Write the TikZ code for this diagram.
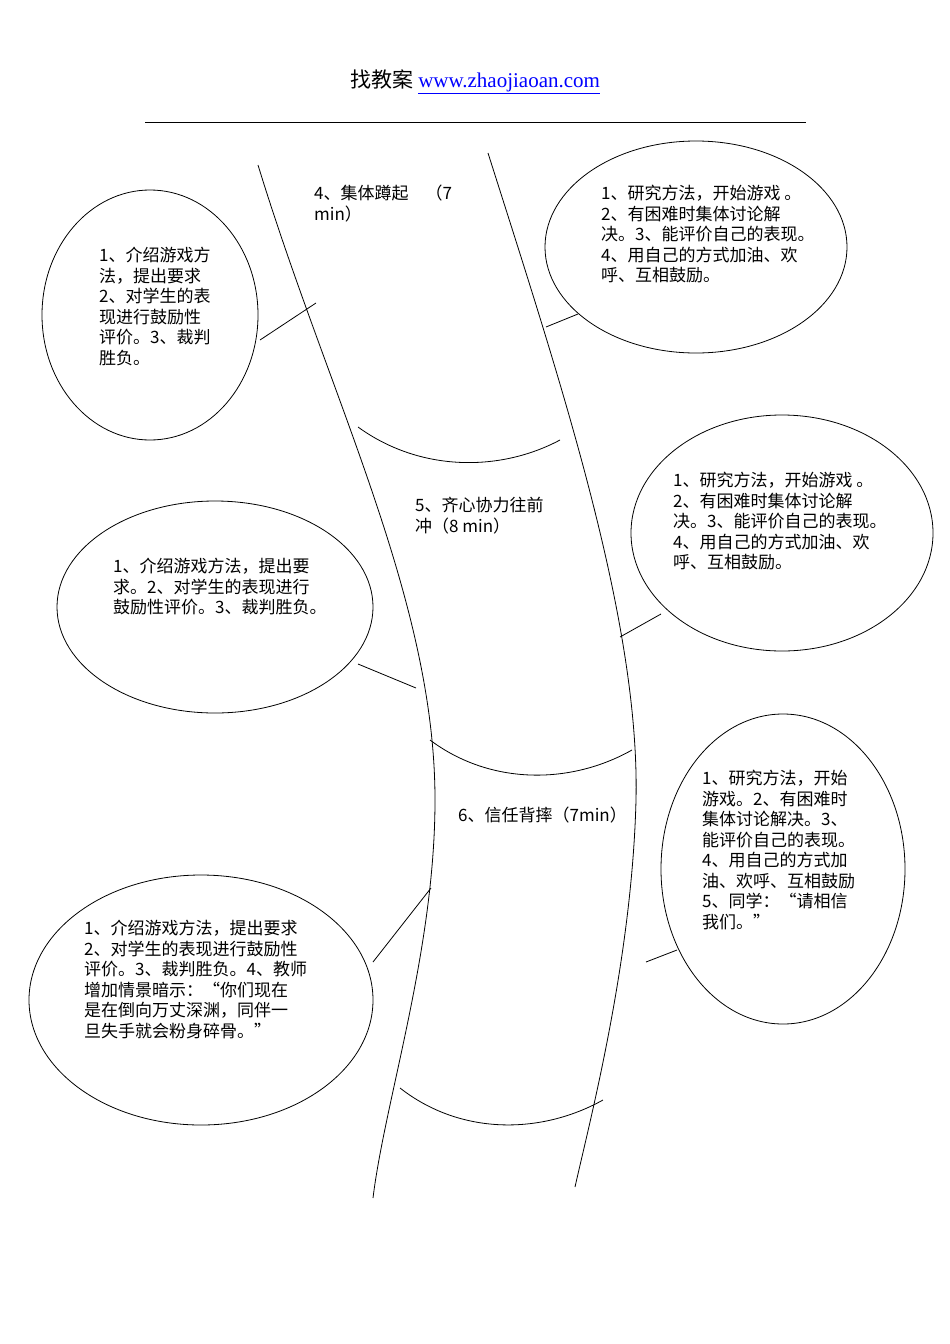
\documentclass[tikz,border=0pt]{standalone}
\usepackage{fontspec}
\setmainfont{Liberation Serif}
\newfontfamily\cjk{Noto Sans CJK SC}
\begin{document}
\begin{tikzpicture}[x=1pt,y=-1pt,
  txt/.style={anchor=north west,align=left,font=\cjk\fontsize{17}{20.5}\selectfont,inner sep=0pt},
  bub/.style={draw,line width=0.8pt},
  ln/.style={line width=0.8pt}]
\useasboundingbox (0,0) rectangle (950,1344);
\node (hd) at (475,82) {\fontsize{21}{24}\selectfont {\cjk 找教案} \textcolor{blue}{\underline{www.zhaojiaoan.com}}};
\coordinate (h1) at (145,122); \coordinate (h2) at (806,122);
\draw[ln] (h1)--(h2);
% spines
\draw[ln] (258,165) .. controls (330,400) and (435,600) .. (435,800) .. controls (435,950) and (385,1100) .. (373,1198);
\draw[ln] (488,153) .. controls (560,380) and (640,620) .. (636,800) .. controls (632,960) and (590,1120) .. (575,1187);
\draw[ln] (358,427) .. controls (420,472) and (500,472) .. (560,440);
\draw[ln] (430,740) .. controls (490,785) and (570,785) .. (632,750);
\draw[ln] (400,1088) .. controls (460,1135) and (540,1135) .. (603,1100);
% ellipses
\draw[bub] (150,315) ellipse [x radius=108,y radius=125];
\draw[bub] (696,247) ellipse [x radius=151,y radius=106];
\draw[bub] (782,533) ellipse [x radius=151,y radius=118];
\draw[bub] (215,607) ellipse [x radius=158,y radius=106];
\draw[bub] (783,869) ellipse [x radius=122,y radius=155];
\draw[bub] (201,1000) ellipse [x radius=172,y radius=125];
% connectors
\coordinate (a1) at (260,340); \coordinate (a2) at (316,303); \draw[ln] (a1)--(a2);
\coordinate (b1) at (546,327); \coordinate (b2) at (578,314); \draw[ln] (b1)--(b2);
\coordinate (c1) at (620,637); \coordinate (c2) at (661,614); \draw[ln] (c1)--(c2);
\coordinate (d1) at (358,664); \coordinate (d2) at (416,688); \draw[ln] (d1)--(d2);
\coordinate (e1) at (373,962); \coordinate (e2) at (431,888); \draw[ln] (e1)--(e2);
\coordinate (f1) at (646,962); \coordinate (f2) at (677,950); \draw[ln] (f1)--(f2);
% texts
\node[txt] (t1) at (314,185) {4、集体蹲起\quad（7\\min）};
\node[txt] (t2) at (415,497) {5、齐心协力往前\\冲（8 min）};
\node[txt] (t3) at (458,807) {6、信任背摔（7min）};
\node[txt] (l1) at (99,247) {1、介绍游戏方\\法，提出要求\\2、对学生的表\\现进行鼓励性\\评价。3、裁判\\胜负。};
\node[txt] (r1) at (601,185) {1、研究方法，开始游戏 。\\2、有困难时集体讨论解\\决。3、能评价自己的表现。\\4、用自己的方式加油、欢\\呼、互相鼓励。};
\node[txt] (r2) at (673,472) {1、研究方法，开始游戏 。\\2、有困难时集体讨论解\\决。3、能评价自己的表现。\\4、用自己的方式加油、欢\\呼、互相鼓励。};
\node[txt] (l2) at (113,558) {1、介绍游戏方法，提出要\\求。2、对学生的表现进行\\鼓励性评价。3、裁判胜负。};
\node[txt] (r3) at (702,770) {1、研究方法，开始\\游戏。2、有困难时\\集体讨论解决。3、\\能评价自己的表现。\\4、用自己的方式加\\油、欢呼、互相鼓励\\5、同学：“请相信\\我们。”};
\node[txt] (l3) at (84,920) {1、介绍游戏方法，提出要求\\2、对学生的表现进行鼓励性\\评价。3、裁判胜负。4、教师\\增加情景暗示：“你们现在\\是在倒向万丈深渊，同伴一\\旦失手就会粉身碎骨。”};
\end{tikzpicture}
\end{document}
